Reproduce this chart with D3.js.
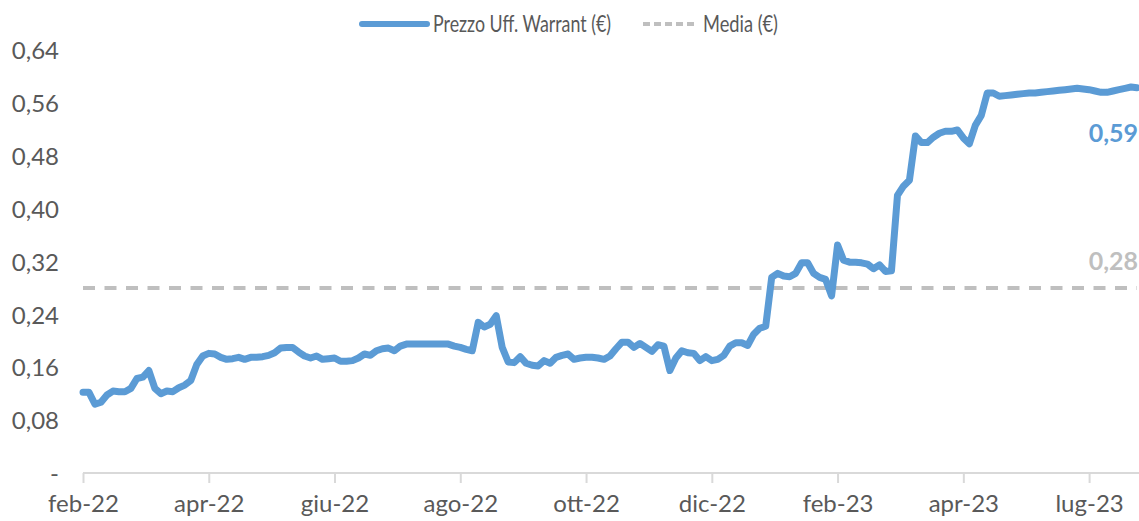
<!DOCTYPE html>
<html>
<head>
<meta charset="utf-8">
<script src="https://cdn.jsdelivr.net/npm/d3@7"></script>
<style>
  body { margin: 0; background: #fff; }
  text { font-family: Lato, "Open Sans", sans-serif; }
</style>
</head>
<body>
<svg id="chart"></svg>
<script>
// Prezzo ufficiale giornaliero del warrant (€), campionato sull'asse a categorie
const prices = [
  0.122, 0.122, 0.104, 0.107, 0.118, 0.124, 0.123, 0.123, 0.128, 0.143,
  0.145, 0.155, 0.128, 0.120, 0.124, 0.123, 0.129, 0.133, 0.140, 0.164,
  0.177, 0.181, 0.180, 0.175, 0.172, 0.173, 0.175, 0.172, 0.175, 0.175,
  0.176, 0.178, 0.182, 0.189, 0.190, 0.190, 0.183, 0.177, 0.174, 0.177,
  0.172, 0.173, 0.174, 0.169, 0.169, 0.170, 0.174, 0.180, 0.178, 0.185,
  0.188, 0.189, 0.185, 0.192, 0.195, 0.195, 0.195, 0.195, 0.195, 0.195,
  0.195, 0.195, 0.192, 0.190, 0.187, 0.185, 0.228, 0.221, 0.225, 0.238,
  0.190, 0.168, 0.167, 0.176, 0.166, 0.163, 0.162, 0.170, 0.166, 0.175,
  0.178, 0.180, 0.172, 0.174, 0.175, 0.175, 0.174, 0.172, 0.177, 0.188,
  0.198, 0.198, 0.190, 0.196, 0.190, 0.184, 0.194, 0.192, 0.155, 0.174,
  0.185, 0.182, 0.181, 0.170, 0.176, 0.170, 0.172, 0.178, 0.192, 0.197,
  0.197, 0.193, 0.210, 0.219, 0.222, 0.296, 0.302, 0.298, 0.297, 0.302,
  0.318, 0.318, 0.302, 0.296, 0.293, 0.268, 0.345, 0.322, 0.319, 0.319,
  0.318, 0.316, 0.309, 0.315, 0.305, 0.306, 0.420, 0.434, 0.443, 0.510,
  0.500, 0.500, 0.508, 0.514, 0.517, 0.517, 0.519, 0.507, 0.498, 0.526,
  0.541, 0.575, 0.575, 0.570, 0.571, 0.572, 0.573, 0.574, 0.575, 0.575,
  0.576, 0.577, 0.578, 0.579, 0.580, 0.581, 0.582, 0.581, 0.580, 0.578,
  0.576, 0.576, 0.578, 0.580, 0.582, 0.584, 0.583
];
const media = 0.28;
const lastLabel = "0,59";
const mediaLabel = "0,28";

// etichette asse x, una ogni 21 punti
const xTickLabels = ["feb-22", "apr-22", "giu-22", "ago-22", "ott-22", "dic-22", "feb-23", "apr-23", "lug-23"];
const xTickStep = 21;
const yTicks = [0, 0.08, 0.16, 0.24, 0.32, 0.40, 0.48, 0.56, 0.64];

const legendNames = ["Prezzo Uff. Warrant (€)", "Media (€)"];

const width = 1139;
const height = 521;
const blue = "#5b9bd5";
const grey = "#bfbfbf";
const textColor = "#595959";

const svg = d3.select("#chart").attr("width", width).attr("height", height);

const x = d3.scaleLinear().domain([0, prices.length - 1]).range([83, 1137]);
const y = d3.scaleLinear().domain([0, 0.64]).range([473, 50]);

const fmt = v => (v === 0 ? "-" : v.toFixed(2).replace(".", ","));

// Y axis labels (no line)
const yAxis = svg
  .append("g")
  .attr("transform", "translate(59,0)")
  .call(d3.axisLeft(y).tickValues(yTicks).tickFormat(fmt).tickSize(0).tickPadding(0));
yAxis.select(".domain").remove();
yAxis
  .selectAll("text")
  .attr("fill", textColor)
  .style("font-size", "24px")
  .attr("dy", "0.36em");

// X axis
const xTickIdx = xTickLabels.map((d, i) => i * xTickStep);
const xAxis = svg
  .append("g")
  .attr("transform", "translate(0,473)")
  .call(
    d3.axisBottom(x)
      .tickValues(xTickIdx)
      .tickFormat((d, i) => xTickLabels[i])
      .tickSize(10)
      .tickSizeOuter(0)
      .tickPadding(12)
  );
xAxis.select(".domain").attr("stroke", "#d9d9d9").attr("stroke-width", 2)
  .attr("d", "M" + x(0) + ",0H" + width);
xAxis.selectAll(".tick line").attr("stroke", "#d9d9d9").attr("stroke-width", 2);
xAxis.selectAll("text").attr("fill", textColor).style("font-size", "24px");

// Mean line
svg
  .append("line")
  .attr("x1", x(0))
  .attr("x2", x(prices.length - 1))
  .attr("y1", y(media))
  .attr("y2", y(media))
  .attr("stroke", grey)
  .attr("stroke-width", 4)
  .attr("stroke-dasharray", "12,9.5");

// Price line
const line = d3
  .line()
  .x((d, i) => x(i))
  .y(d => y(d));
svg
  .append("path")
  .datum(prices)
  .attr("fill", "none")
  .attr("stroke", blue)
  .attr("stroke-width", 7)
  .attr("stroke-linejoin", "round")
  .attr("stroke-linecap", "round")
  .attr("d", line);

// Data labels
svg
  .append("text")
  .attr("x", 1138)
  .attr("y", 142)
  .attr("text-anchor", "end")
  .attr("fill", blue)
  .style("font-size", "25px")
  .style("font-weight", "bold")
  .text(lastLabel);
svg
  .append("text")
  .attr("x", 1138)
  .attr("y", 270)
  .attr("text-anchor", "end")
  .attr("fill", grey)
  .style("font-size", "25px")
  .style("font-weight", "bold")
  .text(mediaLabel);

// Legend
const legend = svg.append("g");
legend
  .append("line")
  .attr("x1", 362).attr("x2", 427)
  .attr("y1", 24).attr("y2", 24)
  .attr("stroke", blue)
  .attr("stroke-width", 6)
  .attr("stroke-linecap", "round");
legend
  .append("text")
  .attr("x", 433)
  .attr("y", 32)
  .attr("fill", textColor)
  .style("font-size", "24px")
  .attr("textLength", 178)
  .attr("lengthAdjust", "spacingAndGlyphs")
  .text(legendNames[0]);
legend
  .append("line")
  .attr("x1", 643).attr("x2", 697)
  .attr("y1", 24).attr("y2", 24)
  .attr("stroke", grey)
  .attr("stroke-width", 4)
  .attr("stroke-dasharray", "7,4");
legend
  .append("text")
  .attr("x", 703)
  .attr("y", 32)
  .attr("fill", textColor)
  .style("font-size", "24px")
  .attr("textLength", 75)
  .attr("lengthAdjust", "spacingAndGlyphs")
  .text(legendNames[1]);
</script>
</body>
</html>
